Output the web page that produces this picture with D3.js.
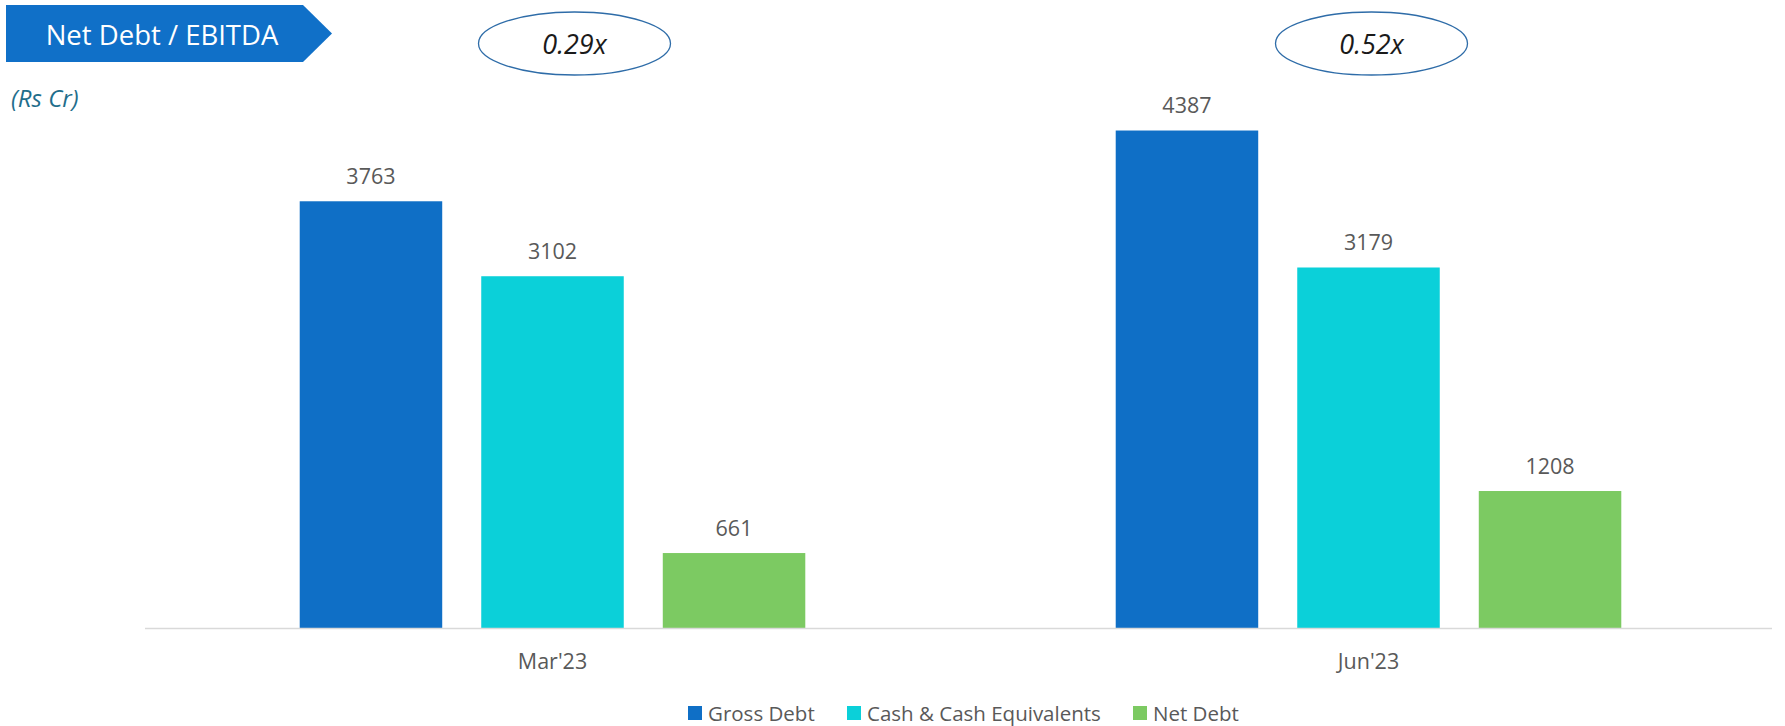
<!DOCTYPE html>
<html lang="en">
<head>
  <meta charset="UTF-8">
  <title>Net Debt / EBITDA</title>
  <script src="https://d3js.org/d3.v7.min.js"></script>
  <style>
    body {
      margin: 0;
      padding: 0;
      background: #fff;
      font-family: "Open Sans", "Noto Sans", Arial, sans-serif;
    }
    .value-label { font-size: 21.5px; fill: #595959; }
    .axis-label { font-size: 21.5px; fill: #595959; }
    .legend-label { font-size: 20.5px; fill: #595959; }
  </style>
</head>
<body>
  <div id="chart"></div>

  <script>
    const periods = ["Mar'23", "Jun'23"];
    const seriesNames = ["Gross Debt", "Cash & Cash Equivalents", "Net Debt"];
    const grossDebt = [3763, 4387];
    const cashEquivalents = [3102, 3179];
    const netDebt = [661, 1208];
    const netDebtToEbitda = ["0.29x", "0.52x"];

    const colors = ["#0F6FC6", "#0BD0D9", "#7CCA62"];

    const width = 1785;
    const height = 726;
    const baseline = 628;

    const svg = d3.select("#chart")
      .append("svg")
      .attr("width", width)
      .attr("height", height);

    const seriesValues = [grossDebt, cashEquivalents, netDebt];
    const rows = periods.map((p, i) => ({
      period: p,
      values: seriesNames.map((s, j) => ({ series: s, value: seriesValues[j][i] }))
    }));

    const x0 = d3.scaleBand()
      .domain(periods)
      .range([144.5, 1776.5]);

    const x1 = d3.scaleBand()
      .domain(seriesNames)
      .range([0, x0.bandwidth()])
      .paddingInner(0.215)
      .paddingOuter(0.855);

    const y = d3.scaleLinear()
      .domain([0, 5000])
      .range([baseline, 61]);

    const color = d3.scaleOrdinal().domain(seriesNames).range(colors);

    // banner title
    svg.append("path")
      .attr("d", "M6,5 H303 L332,33.5 L303,62 H6 Z")
      .attr("fill", "#1070C8");
    svg.append("text")
      .attr("x", 162)
      .attr("y", 34)
      .attr("text-anchor", "middle")
      .attr("dominant-baseline", "central")
      .attr("font-size", "27.5px")
      .attr("fill", "#fff")
      .text("Net Debt / EBITDA");

    svg.append("text")
      .attr("x", 11)
      .attr("y", 97)
      .attr("dominant-baseline", "central")
      .attr("font-size", "24px")
      .attr("font-style", "italic")
      .attr("fill", "#1F6E8C")
      .text("(Rs Cr)");

    // ratio ellipses, nudged right of the group centre as in the source slide
    const ellipseShift = [22, 3];
    const ratio = svg.selectAll(".ratio")
      .data(periods)
      .enter()
      .append("g")
      .attr("transform", (d, i) => `translate(${x0(d) + x0.bandwidth() / 2 + ellipseShift[i]}, 43.5)`);

    ratio.append("ellipse")
      .attr("rx", 96)
      .attr("ry", 31.5)
      .attr("fill", "none")
      .attr("stroke", "#2E6CA8")
      .attr("stroke-width", 1.3);

    ratio.append("text")
      .attr("text-anchor", "middle")
      .attr("dominant-baseline", "central")
      .attr("font-size", "27px")
      .attr("font-style", "italic")
      .attr("fill", "#1a1a1a")
      .text((d, i) => netDebtToEbitda[i]);

    // bars
    const groups = svg.selectAll(".group")
      .data(rows)
      .enter()
      .append("g")
      .attr("transform", d => `translate(${x0(d.period)},0)`);

    groups.selectAll("rect")
      .data(d => d.values)
      .enter()
      .append("rect")
      .attr("x", d => x1(d.series))
      .attr("y", d => y(d.value))
      .attr("width", x1.bandwidth())
      .attr("height", d => baseline - y(d.value))
      .attr("fill", d => color(d.series));

    groups.selectAll(".value-label")
      .data(d => d.values)
      .enter()
      .append("text")
      .attr("class", "value-label")
      .attr("x", d => x1(d.series) + x1.bandwidth() / 2)
      .attr("y", d => y(d.value) - 26)
      .attr("text-anchor", "middle")
      .attr("dominant-baseline", "central")
      .text(d => d.value);

    // axis line
    svg.append("line")
      .attr("x1", 145)
      .attr("x2", 1772)
      .attr("y1", baseline + 0.5)
      .attr("y2", baseline + 0.5)
      .attr("stroke", "#D9D9D9")
      .attr("stroke-width", 1.5);

    svg.selectAll(".axis-label")
      .data(periods)
      .enter()
      .append("text")
      .attr("class", "axis-label")
      .attr("x", d => x0(d) + x0.bandwidth() / 2)
      .attr("y", 660)
      .attr("text-anchor", "middle")
      .attr("dominant-baseline", "central")
      .text(d => d);

    // legend
    const legendX = [688, 847, 1133];
    const legend = svg.selectAll(".legend-item")
      .data(seriesNames)
      .enter()
      .append("g")
      .attr("transform", (d, i) => `translate(${legendX[i]}, 713)`);

    legend.append("rect")
      .attr("x", 0)
      .attr("y", -7)
      .attr("width", 14)
      .attr("height", 14)
      .attr("fill", d => color(d));

    legend.append("text")
      .attr("class", "legend-label")
      .attr("x", 20)
      .attr("y", 0)
      .attr("dominant-baseline", "central")
      .text(d => d);
  </script>
</body>
</html>
